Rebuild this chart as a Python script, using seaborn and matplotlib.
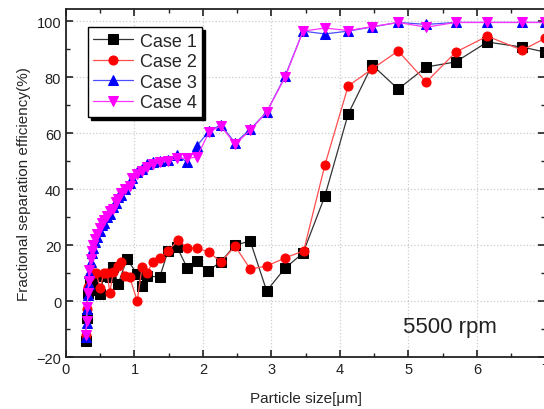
import numpy as np
import pandas as pd
import matplotlib
matplotlib.use("Agg")
import matplotlib.pyplot as plt
import seaborn as sns
from matplotlib.ticker import MultipleLocator

# ---- data ----
x1 = [0.29, 0.30, 0.32, 0.35, 0.40, 0.45, 0.50, 0.55, 0.64, 0.69, 0.76, 0.89, 1.04, 1.11, 1.18,
      1.37, 1.49, 1.62, 1.77, 1.91, 2.07, 2.26, 2.47, 2.69, 2.93, 3.20, 3.46, 3.78, 4.12, 4.47,
      4.85, 5.26, 5.69, 6.15, 6.66, 7.00]
y1 = [-14.3, -6, 3, 6, 8, 4, 2.5, 9, 8.6, 12, 6, 15, 9.6, 5.4, 8.9,
      8.6, 17.9, 19.3, 11.8, 14.3, 10.7, 14.0, 20.0, 21.4, 3.6, 11.8, 17.1, 37.5, 66.8, 84.3,
      75.7, 83.6, 85.4, 92.5, 90.7, 88.9]

x2 = [0.29, 0.30, 0.32, 0.35, 0.40, 0.44, 0.50, 0.55, 0.60, 0.64, 0.69, 0.76, 0.80, 0.86, 0.93,
      1.04, 1.11, 1.18, 1.27, 1.37, 1.49, 1.64, 1.77, 1.91, 2.09, 2.26, 2.47, 2.69, 2.93, 3.20,
      3.47, 3.78, 4.12, 4.47, 4.85, 5.26, 5.69, 6.15, 6.66, 7.00]
y2 = [-12, -3, 5, 9, 10, 10, 4.5, 10, 10, 3, 10.5, 12.5, 14, 9, 8.5,
      0, 12, 10, 13.9, 15.4, 17.9, 21.8, 18.9, 18.9, 17.5, 13.9, 19.6, 11.4, 12.5, 15.4,
      17.9, 48.6, 76.8, 82.9, 89.3, 78.2, 88.9, 94.6, 89.6, 93.9]

x34 = [0.29, 0.30, 0.31, 0.32, 0.33, 0.34, 0.36, 0.38, 0.40, 0.43, 0.46, 0.50, 0.53, 0.56, 0.60,
       0.64, 0.69, 0.73, 0.76, 0.80, 0.86, 0.93, 0.97, 1.04, 1.11, 1.18, 1.27, 1.37, 1.49, 1.62,
       1.77, 1.91, 2.09, 2.26, 2.47, 2.69, 2.93, 3.20, 3.46, 3.78, 4.12, 4.47, 4.85, 5.26, 5.69,
       6.15, 6.66, 7.00]
y3 = [-13, -8, -3, 2, 6, 10, 14, 17, 19, 21, 23, 25, 27, 28, 30,
      31, 33.5, 35, 37, 38, 40, 42, 44, 46, 47, 49, 49.5, 50, 50.5, 52,
      49.6, 55.4, 60.7, 62.9, 56.5, 61.4, 67.5, 80.4, 96.4, 95.4, 96.4, 97.9, 99.5, 98.8, 99.5,
      99.5, 99.5, 99.5]
y4 = [-12, -7, -2, 3, 7, 11, 15, 18, 20, 22, 24, 26, 28, 29, 30.5,
      32, 33, 35.5, 36.6, 38.5, 40, 41, 44, 45.5, 46.5, 48, 48.8, 49.5, 50, 51,
      51, 51.4, 60.4, 62.5, 56, 61, 67.5, 80, 96.4, 97.5, 96.6, 98, 99.5, 97.8, 99.5,
      99.5, 99.5, 99.5]

labels = ["Case 1", "Case 2", "Case 3", "Case 4"]

frames = [
    pd.DataFrame({"x": x1, "y": y1, "case": labels[0]}),
    pd.DataFrame({"x": x2, "y": y2, "case": labels[1]}),
    pd.DataFrame({"x": x34, "y": y3, "case": labels[2]}),
    pd.DataFrame({"x": x34, "y": y4, "case": labels[3]}),
]

sns.set_style("ticks")
plt.rcParams["font.family"] = ["Liberation Sans", "DejaVu Sans"]

fig = plt.figure(figsize=(5.44, 4.10), dpi=100)
ax = fig.add_axes([0.1213, 0.1268, 0.8814, 0.8488])

styles = [
    dict(color="#333333", marker="s", mfc="black", mec="black"),
    dict(color="#ff4d4d", marker="o", mfc="#ff0000", mec="#ff0000"),
    dict(color="#4d4dff", marker="^", mfc="#0000ff", mec="#0000ff"),
    dict(color="#ff33ff", marker="v", mfc="#ff00ff", mec="#ff00ff"),
]

for df, st in zip(frames, styles):
    sns.lineplot(data=df, x="x", y="y", ax=ax, sort=False, estimator=None,
                 color=st["color"], marker=st["marker"], markersize=6.5,
                 markerfacecolor=st["mfc"], markeredgecolor=st["mec"],
                 linewidth=0.9, label=df["case"].iloc[0])

ax.set_xlim(0, 7)
ax.set_ylim(-20, 104.3)
ax.xaxis.set_major_locator(MultipleLocator(1))
ax.xaxis.set_minor_locator(MultipleLocator(0.5))
ax.yaxis.set_major_locator(MultipleLocator(20))
ax.yaxis.set_minor_locator(MultipleLocator(10))
ax.tick_params(which="both", direction="in", top=True, right=True, labelsize=10.5, colors="#222222")
ax.tick_params(which="major", length=5, width=1.2)
ax.tick_params(which="minor", length=3, width=1.0)
ax.grid(True, which="major", color="#cccccc", linestyle=":", linewidth=0.9)
for s in ax.spines.values():
    s.set_linewidth(1.3)
    s.set_color("#222222")

ax.set_xlabel("Particle size[\u03bcm]", fontsize=11, labelpad=11)
ax.set_ylabel("Fractional separation efficiency(%)", fontsize=11, labelpad=4)

ax.text(5.6, -9, "5500 rpm", fontsize=16, ha="center", va="center", color="#222222")

leg = ax.legend(loc="upper left", bbox_to_anchor=(0.046, 0.948), fontsize=13,
                frameon=True, fancybox=False, shadow={"color": "black", "alpha": 1},
                edgecolor="black", framealpha=1, handlelength=2.2,
                borderpad=0.3, labelspacing=0.2, handletextpad=0.35, borderaxespad=0)
leg.get_frame().set_linewidth(1.0)

fig.savefig("out.png", dpi=100)
